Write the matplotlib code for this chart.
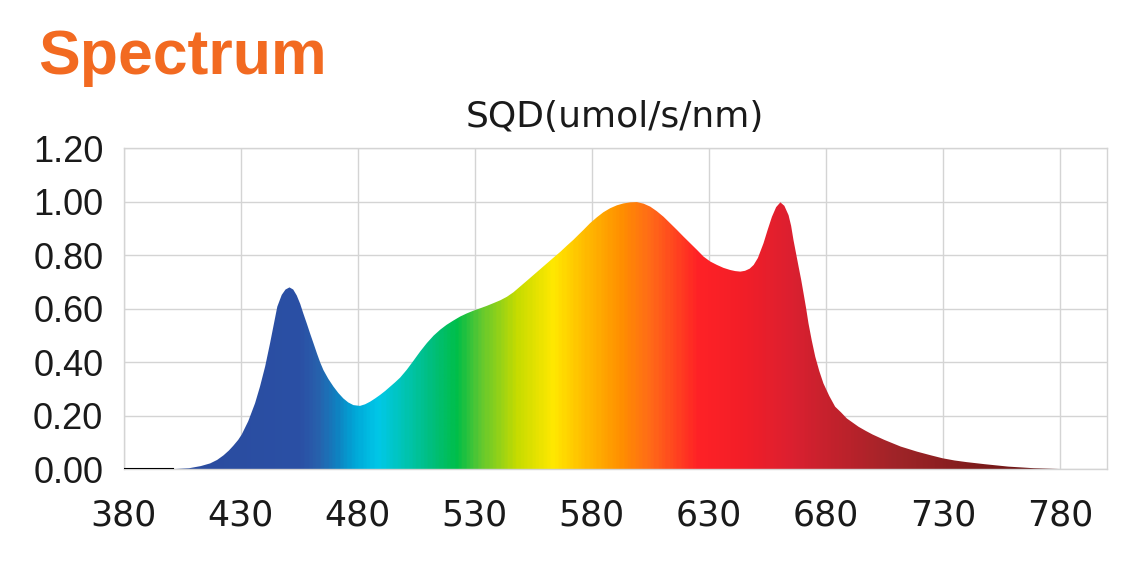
import numpy as np
import matplotlib
matplotlib.use('Agg')
import matplotlib.pyplot as plt
from matplotlib.colors import LinearSegmentedColormap

# spectrum (nm, umol/s/nm)
wavelength = [400, 404, 408, 413, 417, 420, 422.7, 425, 426.9, 429, 430.5, 433.3, 436.2,
              438.3, 440.5, 442.6, 444, 445.7, 447.6, 449.2, 450.9, 452.5, 454, 455.5,
              456.8, 458.3, 459.7, 461.2, 462.6, 464, 465.4, 467.5, 469.7, 471.8, 473.9,
              476, 478.2, 481, 483.2, 485.4, 487.5, 489.6, 491.8, 493.9, 496, 498.2, 501,
              503.8, 506.7, 509.6, 512.5, 515.3, 518, 520.9, 523.8, 526.7, 529.5, 532.4,
              535.2, 538, 541, 543.8, 546.6, 549.4, 552.2, 555.1, 558, 560.9, 563.8,
              566.6, 569.4, 572.2, 574.5, 576.5, 579.3, 582.2, 585, 587.9, 590.8, 593.6,
              596.5, 599.3, 602.2, 605, 607.8, 610.7, 613.5, 616.4, 619.2, 622.1, 625,
              627.8, 630.6, 633.5, 636.3, 639.2, 641.3, 643.5, 645.5, 647.5, 649.2, 651,
              653.4, 655.2, 657, 658.8, 660.6, 662.3, 664.1, 665.2, 666.2, 667.3, 668.4,
              669.5, 670.5, 671.6, 672.6, 674, 675.5, 677.2, 679, 681.5, 684, 686.5, 689,
              691.9, 694, 697, 700, 705, 712, 719, 725, 730, 735, 740, 748, 758, 769, 780,
              786]
sqd = [0.0, 0.002, 0.004, 0.012, 0.022, 0.035, 0.052, 0.07, 0.088, 0.11, 0.13, 0.18,
       0.247, 0.309, 0.384, 0.471, 0.533, 0.608, 0.652, 0.672, 0.68, 0.672, 0.65, 0.618,
       0.583, 0.545, 0.508, 0.47, 0.434, 0.4, 0.371, 0.338, 0.309, 0.285, 0.265, 0.25,
       0.24, 0.237, 0.243, 0.253, 0.265, 0.278, 0.293, 0.309, 0.325, 0.343, 0.372, 0.405,
       0.44, 0.472, 0.5, 0.522, 0.54, 0.556, 0.571, 0.583, 0.593, 0.602, 0.611,
       0.621, 0.632, 0.645, 0.662, 0.683, 0.704, 0.726, 0.748, 0.77, 0.792, 0.813,
       0.836, 0.858, 0.878, 0.895, 0.92, 0.942, 0.961, 0.976, 0.987, 0.994, 0.998,
       0.999, 0.993, 0.982, 0.965, 0.944, 0.92, 0.895, 0.87, 0.845, 0.82, 0.795, 0.777,
       0.764, 0.753, 0.745, 0.741, 0.739, 0.742, 0.75, 0.764, 0.79, 0.845, 0.896, 0.944,
       0.98, 0.998, 0.985, 0.95, 0.91, 0.857, 0.807, 0.757, 0.708, 0.658, 0.602, 0.546,
       0.482, 0.421, 0.368, 0.321, 0.274, 0.234, 0.213, 0.19, 0.172, 0.159, 0.144, 0.13,
       0.11, 0.085, 0.066, 0.052, 0.041, 0.033, 0.027, 0.019, 0.01, 0.004, 0.001, 0.0]

xticks = [380, 430, 480, 530, 580, 630, 680, 730, 780]
yticks = [0.0, 0.2, 0.4, 0.6, 0.8, 1.0, 1.2]

# colour stops of the fill along the wavelength axis
stop_nm = [380, 400, 455, 462, 470, 478, 488, 500, 512, 522, 532, 548, 563, 575, 592,
           605, 625, 645, 665, 685, 710, 745, 785, 800]
stop_col = ['#2A4B9E', '#2A4B9E', '#2B50A5', '#2860AC', '#1080C0', '#00A8D8', '#00C8E8',
            '#00C4B0', '#00BE78', '#00BE48', '#60C830', '#C8DC00', '#FFE800', '#FFC000',
            '#FF9000', '#FF6A18', '#FF2226', '#F21E28', '#DC2030', '#C0222C', '#A02428',
            '#7E1C1C', '#5A0E0E', '#5A0E0E']

cmap = LinearSegmentedColormap.from_list(
    'spec', [((w - 380) / 420, c) for w, c in zip(stop_nm, stop_col)])

fig = plt.figure(figsize=(11.46, 5.64), dpi=100)
ax = fig.add_axes([123.5 / 1146, 1 - 469.3 / 564, (1106.7 - 123.5) / 1146, (469.3 - 148.3) / 564])

ax.set_xlim(380, 800)
ax.set_ylim(0, 1.2)

poly = ax.fill_between(wavelength, sqd, 0, color='none', lw=0)
grad = ax.imshow(np.linspace(0, 1, 600)[None, :], extent=[380, 800, 0, 1.2],
                 aspect='auto', cmap=cmap, zorder=2, interpolation='bilinear')
grad.set_clip_path(poly.get_paths()[0], transform=ax.transData)

ax.plot([380, 401], [0, 0], color='black', lw=1.5, zorder=3)

ax.set_xticks(xticks)
ax.set_yticks(yticks)
ax.set_yticklabels([f'{v:.2f}' for v in yticks], fontsize=26, family='Liberation Sans')
ax.set_xticklabels([str(v) for v in xticks], fontsize=25, family='DejaVu Sans')
ax.tick_params(length=0, colors='#1a1a1a')
ax.tick_params(axis='y', pad=14.5)
ax.tick_params(axis='x', pad=21)
ax.grid(True, color='#d4d4d4', lw=1)
ax.set_axisbelow(True)
for s in ax.spines.values():
    s.set_color('#d4d4d4')
    s.set_linewidth(1)

fig.text(615 / 1146, 1 - 117 / 564, 'SQD(umol/s/nm)', ha='center', va='center',
         fontsize=26, color='#1a1a1a', family='DejaVu Sans')
fig.text(38 / 1146, 1 - 74 / 564, 'Spectrum', ha='left', va='baseline',
         fontsize=45, fontweight='bold', color='#F26A21', family='Liberation Sans')

fig.savefig('out.png', dpi=100)
